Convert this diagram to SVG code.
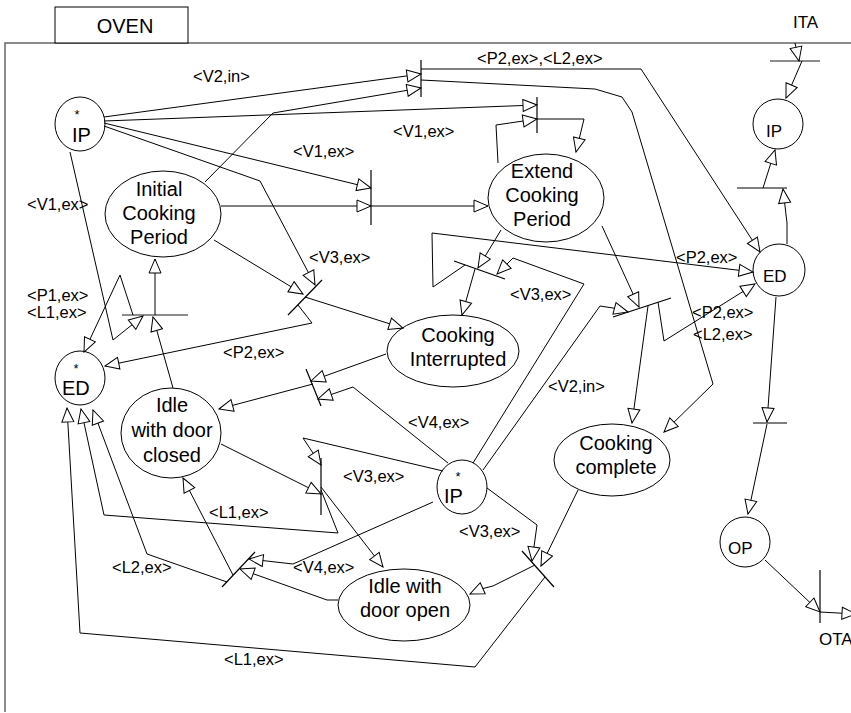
<svg xmlns="http://www.w3.org/2000/svg" width="851" height="713" viewBox="0 0 851 713">
  <style>
    .frame { fill: none; stroke: #666; stroke-width: 1.5; }
    .place { fill: #fff; stroke: #000; stroke-width: 1; }
    .bar { stroke: #000; stroke-width: 1.2; fill: none; }
    .gbar { stroke: #666; stroke-width: 1.5; fill: none; }
    .arc { fill: none; stroke: #000; stroke-width: 1; marker-end: url(#arr); }
    text { font-family: "Liberation Sans", Arial, sans-serif; fill: #000; }
    .nt { font-size: 20px; text-anchor: middle; }
    .ns { font-size: 20px; }
    .sm { font-size: 17px; }
    .lb { font-size: 16.5px; }
    .st { font-size: 13px; text-anchor: middle; }
  </style>
  <defs>
    <marker id="arr" markerUnits="userSpaceOnUse" markerWidth="16" markerHeight="14" viewBox="0 0 16 14" refX="15" refY="7" orient="auto">
      <path d="M1,1 L15,7 L1,13 Z" fill="#fff" stroke="#000" stroke-width="1"/>
    </marker>
  </defs>

  <rect width="851" height="713" fill="#fff"/>

  <!-- enclosing frame and name tab -->
  <g id="frame">
    <polyline class="frame" points="5,712 5,43 851,43"/>
    <rect x="55" y="7" width="133" height="36" fill="#fff" stroke="#000" stroke-width="1"/>
    <text x="125" y="33" class="nt">OVEN</text>
    <text x="793" y="28" class="sm">ITA</text>
    <text x="819" y="645" class="sm">OTA</text>
  </g>

  <!-- places -->
  <g id="ip-main">
    <ellipse class="place" cx="80" cy="124" rx="25" ry="27"/>
    <text x="77" y="119" class="st">*</text>
    <text x="72" y="142" class="ns">IP</text>
  </g>
  <g id="initial-cooking">
    <ellipse class="place" cx="163" cy="214" rx="58" ry="43"/>
    <text x="159" y="196" class="nt">Initial</text>
    <text x="159" y="220" class="nt">Cooking</text>
    <text x="159" y="244" class="nt">Period</text>
  </g>
  <g id="extend-cooking">
    <ellipse class="place" cx="546" cy="198" rx="58" ry="44"/>
    <text x="542" y="178" class="nt">Extend</text>
    <text x="542" y="202" class="nt">Cooking</text>
    <text x="542" y="226" class="nt">Period</text>
  </g>
  <g id="ed-main">
    <ellipse class="place" cx="80" cy="378" rx="25" ry="27"/>
    <text x="76" y="373" class="st">*</text>
    <text x="62" y="395" class="ns">ED</text>
  </g>
  <g id="cooking-interrupted">
    <ellipse class="place" cx="453" cy="351" rx="66" ry="36"/>
    <text x="458" y="342" class="nt">Cooking</text>
    <text x="458" y="366" class="nt">Interrupted</text>
  </g>
  <g id="idle-closed">
    <ellipse class="place" cx="171" cy="433" rx="50" ry="45"/>
    <text x="172" y="412" class="nt">Idle</text>
    <text x="172" y="437" class="nt">with door</text>
    <text x="172" y="462" class="nt">closed</text>
  </g>
  <g id="cooking-complete">
    <ellipse class="place" cx="612" cy="460" rx="58" ry="36"/>
    <text x="616" y="450" class="nt">Cooking</text>
    <text x="616" y="474" class="nt">complete</text>
  </g>
  <g id="ip-center">
    <ellipse class="place" cx="462" cy="487" rx="25" ry="27"/>
    <text x="458" y="481" class="st">*</text>
    <text x="444" y="503" class="ns">IP</text>
  </g>
  <g id="idle-open">
    <ellipse class="place" cx="404" cy="605" rx="66" ry="36"/>
    <text x="405" y="593" class="nt">Idle with</text>
    <text x="405" y="617" class="nt">door open</text>
  </g>
  <g id="ip-right">
    <circle class="place" cx="778" cy="124" r="25"/>
    <text x="766" y="137" class="sm">IP</text>
  </g>
  <g id="ed-right">
    <circle class="place" cx="779" cy="270" r="26"/>
    <text x="763" y="282" class="sm">ED</text>
  </g>
  <g id="op-right">
    <circle class="place" cx="745" cy="542" r="25"/>
    <text x="728" y="554" class="sm">OP</text>
  </g>

  <!-- transitions -->
  <g id="t1"><line class="bar" x1="421" y1="60" x2="421" y2="97"/></g>
  <g id="t2"><line class="bar" x1="537" y1="97" x2="537" y2="133"/></g>
  <g id="t3"><line class="bar" x1="371" y1="170" x2="371" y2="225"/></g>
  <g id="t4"><line class="bar" x1="288" y1="315" x2="322" y2="280"/></g>
  <g id="t5"><line class="gbar" x1="122" y1="315" x2="188" y2="315"/></g>
  <g id="t6"><line class="bar" x1="306" y1="369" x2="321" y2="406"/></g>
  <g id="t7"><line class="bar" x1="321" y1="458" x2="321" y2="515"/></g>
  <g id="t8"><line class="bar" x1="222" y1="587" x2="255" y2="552"/></g>
  <g id="t9"><line class="bar" x1="522" y1="551" x2="554" y2="587"/></g>
  <g id="t10"><line class="bar" x1="454" y1="261" x2="505" y2="279"/></g>
  <g id="t11"><line class="bar" x1="613" y1="317" x2="671" y2="298"/></g>
  <g id="t-ita"><line class="gbar" x1="770" y1="61" x2="820" y2="61"/></g>
  <g id="t-ip"><line class="bar" x1="737" y1="188" x2="787" y2="188"/></g>
  <g id="t-ed"><line class="bar" x1="753" y1="423" x2="787" y2="423"/></g>
  <g id="t-ota"><line class="bar" x1="820" y1="570" x2="820" y2="623"/></g>

  <!-- connectors -->
  <g id="connectors">
    <polyline class="arc" points="104,117 421,74"/>
    <polyline class="arc" points="205,182 273,113 421,88"/>
    <polyline class="arc" points="421,69 641,69 760,252"/>
    <polyline class="arc" points="421,80 595,89 622,97 632,112 713,384 664,432"/>
    <polyline class="arc" points="104,121 537,105"/>
    <polyline class="arc" points="498,163 496,125 537,119"/>
    <polyline class="arc" points="537,119 584,119 576,152"/>
    <polyline class="arc" points="104,123 371,188"/>
    <polyline class="arc" points="221,206 371,206"/>
    <polyline class="arc" points="371,206 488,206"/>
    <polyline class="arc" points="214,240 303,294"/>
    <polyline class="arc" points="104,126 260,181 315,285"/>
    <polyline class="arc" points="305,297 403,328"/>
    <polyline class="arc" points="298,305 312,323 105,366"/>
    <polyline class="arc" points="155,315 155,259"/>
    <polyline class="arc" points="173,388 153,317"/>
    <polyline class="arc" points="70,152 113,340 143,316"/>
    <polyline class="arc" points="133,315 120,275 84,352"/>
    <polyline class="arc" points="386,354 311,381"/>
    <polyline class="arc" points="448,463 353,387 318,399"/>
    <polyline class="arc" points="313,384 219,409"/>
    <polyline class="arc" points="443,471 303,438 321,465"/>
    <polyline class="arc" points="221,444 321,494"/>
    <polyline class="arc" points="321,487 383,567"/>
    <polyline class="arc" points="321,490 338,533 104,515 81,409"/>
    <polyline class="arc" points="433,502 293,564 249,559"/>
    <polyline class="arc" points="338,600 327,600 240,569"/>
    <polyline class="arc" points="233,575 183,478"/>
    <polyline class="arc" points="227,582 147,554 93,410"/>
    <polyline class="arc" points="487,488 537,525 532,561"/>
    <polyline class="arc" points="578,490 541,566"/>
    <polyline class="arc" points="535,565 493,586 481,589 470,594"/>
    <polyline class="arc" points="545,577 475,667 80,633 67,408"/>
    <polyline class="arc" points="501,230 478,268"/>
    <polyline class="arc" points="473,463 584,284 513,258 497,274"/>
    <polyline class="arc" points="475,269 462,315"/>
    <polyline class="arc" points="465,265 433,287 432,233 753,272"/>
    <polyline class="arc" points="602,226 639,307"/>
    <polyline class="arc" points="483,470 600,306 613,308 628,312"/>
    <polyline class="arc" points="648,306 632,423"/>
    <polyline class="arc" points="658,302 664,341 755,284"/>
    <polyline class="arc" points="795,43 799,61"/>
    <polyline class="arc" points="802,61 786,98"/>
    <polyline class="arc" points="763,188 775,150"/>
    <polyline class="arc" points="787,244 787,223 783,189"/>
    <polyline class="arc" points="776,297 767,422"/>
    <polyline class="arc" points="767,424 748,514"/>
    <polyline class="arc" points="765,560 820,612"/>
    <polyline class="arc" points="820,612 856,614"/>
  </g>

  <!-- arc inscriptions -->
  <g id="labels" class="lb">
    <text x="193" y="82" class="lb">&lt;V2,in&gt;</text>
    <text x="477" y="64" class="lb">&lt;P2,ex&gt;,&lt;L2,ex&gt;</text>
    <text x="393" y="137" class="lb">&lt;V1,ex&gt;</text>
    <text x="293" y="157" class="lb">&lt;V1,ex&gt;</text>
    <text x="27" y="210" class="lb">&lt;V1,ex&gt;</text>
    <text x="309" y="263" class="lb">&lt;V3,ex&gt;</text>
    <text x="27" y="301" class="lb">&lt;P1,ex&gt;</text>
    <text x="27" y="318" class="lb">&lt;L1,ex&gt;</text>
    <text x="223" y="358" class="lb">&lt;P2,ex&gt;</text>
    <text x="510" y="300" class="lb">&lt;V3,ex&gt;</text>
    <text x="676" y="263" class="lb">&lt;P2,ex&gt;</text>
    <text x="692" y="318" class="lb">&lt;P2,ex&gt;</text>
    <text x="693" y="340" class="lb">&lt;L2,ex&gt;</text>
    <text x="548" y="392" class="lb">&lt;V2,in&gt;</text>
    <text x="408" y="428" class="lb">&lt;V4,ex&gt;</text>
    <text x="343" y="482" class="lb">&lt;V3,ex&gt;</text>
    <text x="209" y="518" class="lb">&lt;L1,ex&gt;</text>
    <text x="459" y="537" class="lb">&lt;V3,ex&gt;</text>
    <text x="112" y="573" class="lb">&lt;L2,ex&gt;</text>
    <text x="293" y="573" class="lb">&lt;V4,ex&gt;</text>
    <text x="224" y="665" class="lb">&lt;L1,ex&gt;</text>
  </g>
</svg>
